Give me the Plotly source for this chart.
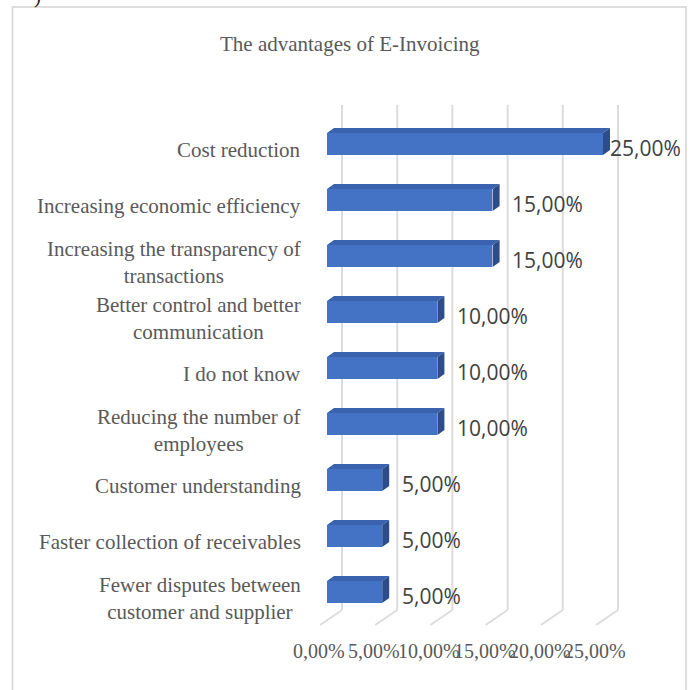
import plotly.graph_objects as go

# Survey results: advantages of e-invoicing (share of respondents, %)
categories = [
    "Cost reduction",
    "Increasing economic efficiency",
    "Increasing the transparency of<br>transactions",
    "Better control and better<br>communication",
    "I do not know",
    "Reducing the number of<br>employees",
    "Customer understanding",
    "Faster collection of receivables",
    "Fewer disputes between<br>customer and supplier",
]
shares = [25, 15, 15, 10, 10, 10, 5, 5, 5]
tick_values = [0, 5, 10, 15, 20, 25]
tick_labels = ["0,00%", "5,00%", "10,00%", "15,00%", "20,00%", "25,00%"]
title_text = "The advantages of E-Invoicing"

value_labels = [f"{v:.2f}".replace(".", ",") + "%" for v in shares]

W, H = 692, 690
SERIF = "Liberation Serif, Times New Roman, serif"
SANS = "Open Sans, Liberation Sans, sans-serif"
TEXT_GREY = "#595959"

# axis geometry (data units)
X_RANGE = [-2.5, 30]
Y_RANGE = [-1.5, 9.5]
PX_X = 11.04          # pixels per percentage point
PX_Y = 56.0           # pixels per category row
X0_PX = 327           # pixel position of 0 %
Y0_PX = 592           # pixel position of the lowest row

BAR_W = 0.39          # bar thickness in row units
DEPTH_X = 7 / PX_X    # 3-D extrusion of the bars
DEPTH_Y = 5 / PX_Y
WALL_X = 15 / PX_X    # back wall offset of the gridlines
FLOOR_FRONT_X = -7 / PX_X
WALL_TOP = 8.696
WALL_BOTTOM = -0.321
FLOOR_FRONT_Y = -0.589
TICK_Y = -1.054
LABEL_GAP = 1.6
LABEL_MAX_X = 25.45

n = len(categories)
ypos = [n - 1 - i for i in range(n)]

fig = go.Figure()

fig.add_trace(go.Bar(
    x=shares, y=ypos, orientation="h", width=BAR_W,
    marker=dict(color="#4472C4", line=dict(width=0)),
    hoverinfo="skip", showlegend=False,
))

shapes = []
# gridlines on the back wall and across the floor
for t in tick_values:
    shapes.append(dict(type="line", xref="x", yref="y", layer="below",
                       x0=t + WALL_X, x1=t + WALL_X, y0=WALL_BOTTOM, y1=WALL_TOP,
                       line=dict(color="#DCDCDC", width=2)))
    shapes.append(dict(type="line", xref="x", yref="y", layer="below",
                       x0=t + FLOOR_FRONT_X, x1=t + WALL_X,
                       y0=FLOOR_FRONT_Y, y1=WALL_BOTTOM,
                       line=dict(color="#DCDCDC", width=2)))

# top and side faces of the 3-D bars
for v, y in zip(shares, ypos):
    top = y + BAR_W / 2
    bot = y - BAR_W / 2
    shapes.append(dict(
        type="path", xref="x", yref="y", layer="above", line=dict(width=0),
        fillcolor="#3A62AE",
        path=f"M 0 {top} L {v} {top} L {v + DEPTH_X} {top + DEPTH_Y} "
             f"L {DEPTH_X} {top + DEPTH_Y} Z"))
    shapes.append(dict(
        type="path", xref="x", yref="y", layer="above", line=dict(width=0),
        fillcolor="#2C4D8A",
        path=f"M {v} {bot} L {v} {top} L {v + DEPTH_X} {top + DEPTH_Y} "
             f"L {v + DEPTH_X} {bot + DEPTH_Y} Z"))

# outer chart border
shapes.append(dict(type="rect", xref="paper", yref="paper",
                   x0=12.5 / W, x1=686 / W, y0=-0.05, y1=(H - 7) / H,
                   line=dict(color="#D4D4D4", width=1.5), fillcolor="rgba(0,0,0,0)"))

annotations = []
# category labels
for cat, y in zip(categories, ypos):
    annotations.append(dict(
        text=cat, xref="paper", yref="y", x=303 / W, y=y,
        xanchor="right", yanchor="middle", align="center", yshift=-6,
        showarrow=False, font=dict(family=SERIF, size=21, color=TEXT_GREY)))
# value labels
for v, lab, y in zip(shares, value_labels, ypos):
    annotations.append(dict(
        text=lab, xref="x", yref="y", x=min(v + LABEL_GAP, LABEL_MAX_X), y=y,
        xanchor="left", yanchor="middle", yshift=-4,
        showarrow=False, font=dict(family=SANS, size=21, color="#404040")))
# value axis tick labels
for t, lab in zip(tick_values, tick_labels):
    annotations.append(dict(
        text=lab, xref="x", yref="y", x=t, y=TICK_Y, xshift=-8,
        xanchor="center", yanchor="middle",
        showarrow=False, font=dict(family=SERIF, size=20, color=TEXT_GREY)))
# title
annotations.append(dict(
    text=title_text, xref="paper", yref="paper", x=350 / W, y=(H - 44) / H,
    xanchor="center", yanchor="middle", showarrow=False,
    font=dict(family=SERIF, size=21, color=TEXT_GREY)))
# clipped bracket from preceding text
annotations.append(dict(
    text=")", xref="paper", yref="paper", x=37 / W, y=1, yshift=-10,
    xanchor="center", yanchor="bottom", showarrow=False,
    font=dict(family=SERIF, size=21, color="#222222")))

fig.update_layout(
    width=W, height=H,
    margin=dict(l=0, r=0, t=0, b=0),
    paper_bgcolor="white", plot_bgcolor="white",
    xaxis=dict(range=X_RANGE, domain=[(X0_PX + X_RANGE[0] * PX_X) / W,
                                      (X0_PX + X_RANGE[1] * PX_X) / W],
               visible=False, fixedrange=True),
    yaxis=dict(range=Y_RANGE, domain=[(H - (Y0_PX - Y_RANGE[0] * PX_Y)) / H,
                                      (H - (Y0_PX - Y_RANGE[1] * PX_Y)) / H],
               visible=False, fixedrange=True),
    shapes=shapes, annotations=annotations,
    bargap=0,
)

fig.write_html("out.html")
